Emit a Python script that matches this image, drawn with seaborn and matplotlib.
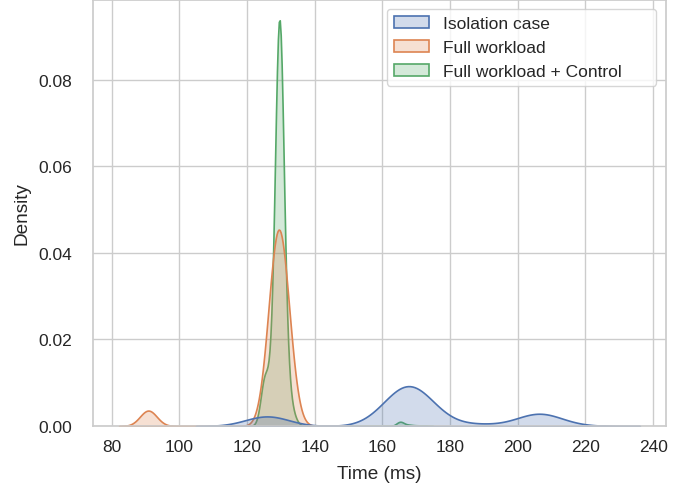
import numpy as np
import pandas as pd
import matplotlib
matplotlib.use("Agg")
import matplotlib.pyplot as plt
import seaborn as sns

# ---- data: measured response times (ms) and number of runs at each value ----
case_names = ["Isolation case", "Full workload", "Full workload + Control"]

iso_times = [123, 125, 127, 129,
             158, 160, 162, 164, 166, 168, 170, 172, 174, 176, 178,
             184, 188, 192,
             202, 204, 206, 208, 210, 213, 218]
iso_counts = [25, 35, 35, 22,
              6, 18, 40, 71, 98, 108, 94, 63, 34, 15, 5,
              8, 10, 6,
              14, 32, 48, 34, 18, 8, 3]

full_times = [89, 90, 91, 92, 93,
              125, 126, 127, 128, 129, 130, 131, 132, 133, 134]
full_counts = [6, 21, 29, 14, 3,
               20, 55, 112, 177, 222, 215, 165, 99, 46, 18]

ctrl_times = [123, 124, 125, 126, 127, 128, 129, 130, 131, 132, 133, 134, 135,
              165, 166, 168, 170, 172]
ctrl_counts = [1, 11, 61, 30, 43, 97, 385, 412, 120, 40, 18, 7, 2,
               6, 3, 2, 1, 1]

# ---- build long table of individual runs ----
frames = []
for name, t, c in zip(case_names,
                      [iso_times, full_times, ctrl_times],
                      [iso_counts, full_counts, ctrl_counts]):
    frames.append(pd.DataFrame({"Time (ms)": np.repeat(t, c).astype(float),
                                "case": name}))
df = pd.concat(frames, ignore_index=True)

sns.set_theme(style="whitegrid", context="notebook")
plt.rcParams["font.family"] = ["Liberation Sans", "DejaVu Sans"]

fig = plt.figure(figsize=(6.88, 4.85), dpi=100)
ax = fig.add_axes([93 / 688, 58 / 485, 573 / 688, 426 / 485])

sns.kdeplot(data=df, x="Time (ms)", hue="case", hue_order=case_names,
            fill=True, common_norm=True, linewidth=1.2, ax=ax)

sns.move_legend(ax, "upper left", title=None, fontsize=12.5,
                bbox_to_anchor=(0.5131, 0.0, 0.4694, 0.9789),
                mode="expand", borderaxespad=0.0)
ax.set_ylabel("Density", fontsize=13.7, labelpad=5.5)
ax.set_xlabel("Time (ms)", fontsize=13.7, labelpad=7.5)
ax.tick_params(axis="both", labelsize=12.5)
ax.tick_params(axis="y", pad=9.0)

fig.savefig("out.png", dpi=100)
